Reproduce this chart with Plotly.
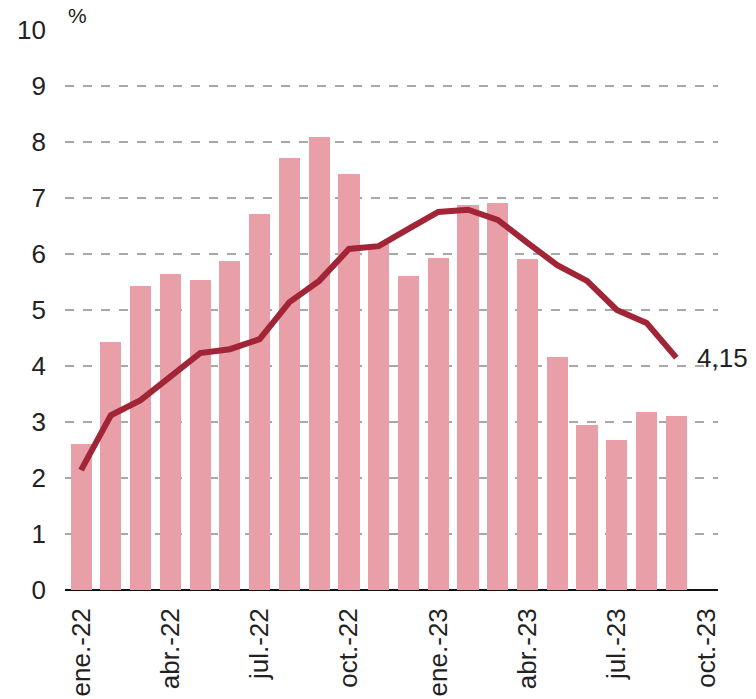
import plotly.graph_objects as go

months = ["ene.-22","feb.-22","mar.-22","abr.-22","may.-22","jun.-22","jul.-22","ago.-22","sep.-22",
          "oct.-22","nov.-22","dic.-22","ene.-23","feb.-23","mar.-23","abr.-23","may.-23","jun.-23",
          "jul.-23","ago.-23","sep.-23"]
bar_values = [2.61, 4.43, 5.43, 5.64, 5.54, 5.88, 6.71, 7.71, 8.09, 7.43, 6.18, 5.61, 5.93, 6.88,
              6.91, 5.91, 4.16, 2.95, 2.68, 3.18, 3.11]
line_values = [2.14, 3.12, 3.39, 3.82, 4.23, 4.30, 4.48, 5.14, 5.52, 6.09, 6.14, 6.45, 6.75, 6.79,
               6.61, 6.20, 5.80, 5.52, 5.00, 4.77, 4.15]
tick_labels = ["ene.-22","abr.-22","jul.-22","oct.-22","ene.-23","abr.-23","jul.-23","oct.-23"]
tick_pos = [0, 3, 6, 9, 12, 15, 18, 21]
y_ticks = list(range(0, 11))

x = list(range(len(months)))
font = "Liberation Sans, Arial, sans-serif"

fig = go.Figure()
fig.add_trace(go.Bar(x=x, y=bar_values, marker=dict(color="#E89FA7", line=dict(width=0)),
                     width=0.71, hovertext=months))
fig.add_trace(go.Scatter(x=x, y=line_values, mode="lines",
                         line=dict(color="#A12536", width=6), cliponaxis=False, hovertext=months))

fig.add_annotation(x=x[-1], y=line_values[-1], text=f"{line_values[-1]:.2f}".replace(".", ","),
                   showarrow=False, xanchor="left", yanchor="middle", xshift=19, yshift=0,
                   font=dict(size=26, color="#222", family=font))
fig.add_annotation(x=0, xref="paper", y=10, yref="y", text="%", showarrow=False,
                   xanchor="left", yanchor="bottom", xshift=1, yshift=1,
                   font=dict(size=21, color="#222", family=font))

fig.update_layout(
    width=756, height=699, margin=dict(l=65, r=38, t=30, b=109),
    plot_bgcolor="white", paper_bgcolor="white", showlegend=False, bargap=0,
    font=dict(family=font, color="#222"),
)
fig.update_xaxes(range=[-0.54, 21.4], tickmode="array", tickvals=tick_pos, ticktext=tick_labels,
                 tickangle=-90, tickfont=dict(size=26, color="#222"), showgrid=False, zeroline=False,
                 showline=False, ticks="", ticklabelstandoff=12, automargin=False)
fig.update_yaxes(range=[0, 10], tickmode="array", tickvals=y_ticks, tickfont=dict(size=26, color="#222"),
                 showgrid=True, gridcolor="#A8A8A8", griddash="dash", gridwidth=2,
                 zeroline=True, zerolinecolor="#111", zerolinewidth=2, ticks="", ticklabelstandoff=18,
                 automargin=False)
fig.write_html("out.html", config={"displayModeBar": False},
               post_script="document.body.style.margin='0';document.body.style.overflow='hidden';")
